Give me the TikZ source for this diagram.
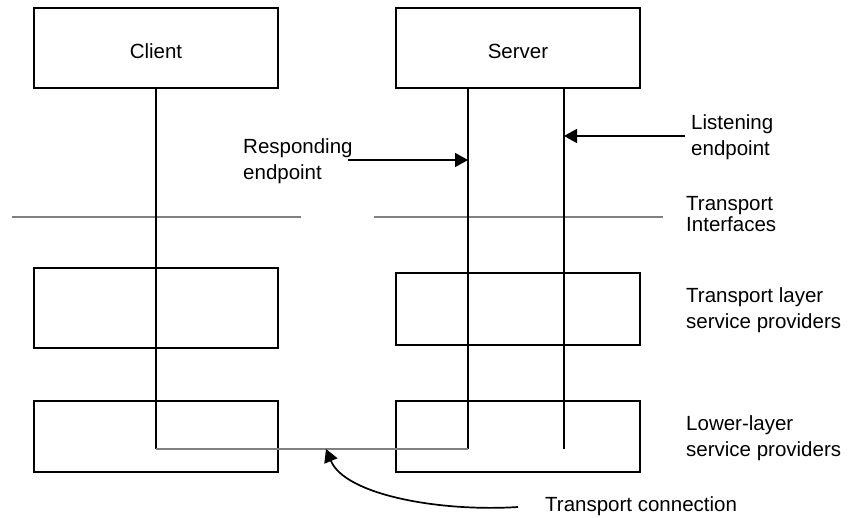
\documentclass[tikz,border=0pt]{standalone}
\usepackage{fontspec}
\setmainfont{Liberation Sans}
\usetikzlibrary{arrows.meta}
\begin{document}
\begin{tikzpicture}[x=1pt,y=-1pt,
  every node/.style={font=\fontsize{20.5}{26}\selectfont},
  box/.style={draw=black,line width=1.7pt,minimum width=244pt,inner sep=0pt,text height=21.4pt,text depth=0pt},
  lbl/.style={align=left,anchor=west,inner sep=0pt},
  blk/.style={draw=black,line width=1.7pt},
  gry/.style={draw=black!50,line width=1.3pt},
  arr/.style={blk,-{Triangle[length=13pt,width=14pt]}}]
\useasboundingbox (0,0) rectangle (861,518);
% boxes
\node[box,minimum height=80pt] (client) at (156,48.3) {Client};
\node[box,minimum height=80pt] (server) at (518,48.3) {Server};
\node[box,minimum height=80pt] (tlc) at (156,308) {};
\node[box,minimum height=72pt] (tls) at (518,309) {};
\node[box,minimum height=71pt] (llc) at (156,436.5) {};
\node[box,minimum height=71pt] (lls) at (518,436.5) {};
% coordinates
\coordinate (s1top) at (468,88.3);
\coordinate (s2top) at (564,88.3);
\coordinate (cbot) at (156,449);
\coordinate (s1bot) at (468,449);
\coordinate (s2bot) at (564,449);
% transport interface lines
\draw[gry] (12,217) -- (301,217);
\draw[gry] (374,217) -- (663,217);
% endpoint lines
\draw[blk] (client.south) -- (cbot);
\draw[blk] (s1top) -- (s1bot);
\draw[blk] (s2top) -- (s2bot);
\draw[gry] (cbot) -- (s1bot);
% labels
\node[lbl] (resp) at (243,161) {Responding\\endpoint};
\node[lbl] (listen) at (691,137) {Listening\\endpoint};
\node[lbl,font=\fontsize{20.5}{21}\selectfont] (ti) at (686,214.2) {Transport\\Interfaces};
\node[lbl] (tlsp) at (686,309.8) {Transport layer\\service providers};
\node[lbl] (llsp) at (686,437.8) {Lower-layer\\service providers};
\node[inner sep=0pt,anchor=base west] (tc) at (545,511.7) {Transport connection};
% arrows
\coordinate (respfrom) at (348,160);
\coordinate (respto) at (468,160);
\coordinate (listfrom) at (685,136);
\coordinate (listto) at (564,136);
\coordinate (tcfrom) at (518,507);
\coordinate (tcto) at (326,449);
\draw[arr] (respfrom) -- (respto);
\draw[arr] (listfrom) -- (listto);
\draw[arr] (tcfrom) .. controls (440,512) and (345,495) .. (tcto);
\end{tikzpicture}
\end{document}
